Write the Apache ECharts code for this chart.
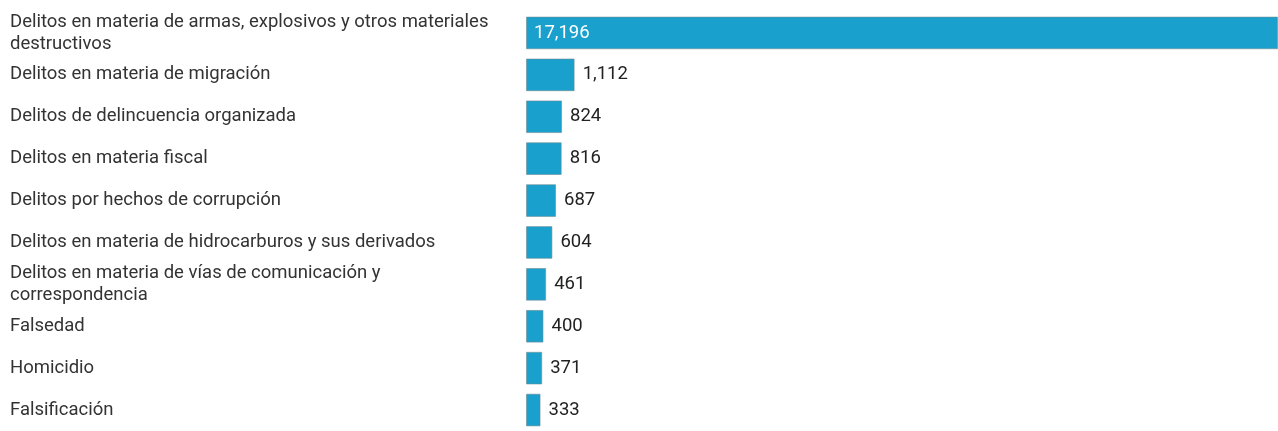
<!DOCTYPE html>
<html>
<head>
<meta charset="utf-8">
<script src="https://cdn.jsdelivr.net/npm/echarts@6/dist/echarts.min.js"></script>
<style>
  html, body { margin: 0; padding: 0; background: #fff; }
  #chart { width: 1278px; height: 431px; }
</style>
</head>
<body>
<div id="chart"></div>
<script>
// Delitos por tipo (top 10)
const categories = [
  'Delitos en materia de armas, explosivos y otros materiales destructivos',
  'Delitos en materia de migración',
  'Delitos de delincuencia organizada',
  'Delitos en materia fiscal',
  'Delitos por hechos de corrupción',
  'Delitos en materia de hidrocarburos y sus derivados',
  'Delitos en materia de vías de comunicación y correspondencia',
  'Falsedad',
  'Homicidio',
  'Falsificación'
];
const values = [17196, 1112, 824, 816, 687, 604, 461, 400, 371, 333];

const fmt = v => v.toLocaleString('en-US');

const chart = echarts.init(document.getElementById('chart'));
chart.setOption({
  animation: false,
  grid: { left: 526, right: 0, top: 12, bottom: -2 },
  xAxis: {
    type: 'value',
    min: 0,
    max: Math.max(...values),
    show: false
  },
  yAxis: {
    type: 'category',
    data: categories,
    inverse: true,
    axisLine: { show: false },
    axisTick: { show: false },
    axisLabel: {
      align: 'left',
      margin: 516,
      width: 505,
      overflow: 'break',
      fontFamily: 'Roboto',
      fontSize: 18.5,
      lineHeight: 22,
      color: '#333'
    }
  },
  series: [{
    type: 'bar',
    data: values.map((v, i) => ({
      value: v,
      label: i === 0
        ? { position: 'insideLeft', color: '#fff', distance: 8 }
        : { position: 'right', color: '#222', distance: 8 }
    })),
    barCategoryGap: '22%',
    itemStyle: {
      color: '#1aa0cd',
      borderColor: 'rgba(110,140,150,0.6)',
      borderWidth: 1
    },
    label: {
      show: true,
      fontFamily: 'Roboto',
      fontSize: 18.5,
      formatter: p => fmt(p.value)
    }
  }]
});
</script>
</body>
</html>
